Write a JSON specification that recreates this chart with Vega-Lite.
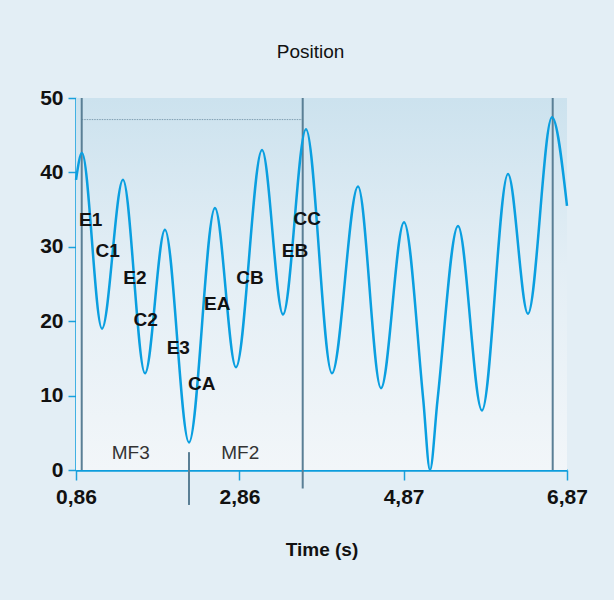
{
  "$schema": "https://vega.github.io/schema/vega-lite/v6.json",
  "width": 491,
  "height": 372,
  "autosize": "none",
  "padding": {"left": 76, "top": 98, "right": 47, "bottom": 130},
  "background": "#e3eef5",
  "title": {"text": "Position", "font": "Liberation Sans", "fontSize": 19, "fontWeight": "normal", "color": "#111111", "offset": 25, "dx": -11, "anchor": "middle"},
  "config": {"view": {"stroke": null}, "axis": {"grid": false}},
  "datasets": {
    "curve": [
      {"t": 0.86, "v": 39},
      {"t": 0.933, "v": 42.6},
      {"t": 1.178, "v": 19.0},
      {"t": 1.435, "v": 39},
      {"t": 1.705, "v": 13.0},
      {"t": 1.949, "v": 32.3},
      {"t": 2.243, "v": 3.7},
      {"t": 2.561, "v": 35.2},
      {"t": 2.818, "v": 13.8},
      {"t": 3.137, "v": 43},
      {"t": 3.394, "v": 20.9},
      {"t": 3.675, "v": 45.8},
      {"t": 3.993, "v": 13.0},
      {"t": 4.312, "v": 38.1},
      {"t": 4.593, "v": 11},
      {"t": 4.875, "v": 33.3},
      {"t": 5.111, "v": 9.4},
      {"t": 5.193, "v": 0},
      {"t": 5.285, "v": 9.4},
      {"t": 5.536, "v": 32.8},
      {"t": 5.829, "v": 8},
      {"t": 6.148, "v": 39.8},
      {"t": 6.392, "v": 21},
      {"t": 6.686, "v": 47.4},
      {"t": 6.87, "v": 35.5}
    ],
    "rules": [
      {"t": 0.930, "v1": 0, "v2": 50},
      {"t": 3.635, "v1": -2.5, "v2": 50},
      {"t": 6.695, "v1": 0, "v2": 50},
      {"t": 2.243, "v1": -4.7, "v2": 2.4}
    ],
    "dotted": [
      {"t": 0.93, "v": 47.1},
      {"t": 3.635, "v": 47.1}
    ],
    "labels": [
      {"t": 1.04, "v": 33.6, "label": "E1"},
      {"t": 1.248, "v": 29.5, "label": "C1"},
      {"t": 1.582, "v": 25.8, "label": "E2"},
      {"t": 1.713, "v": 20.2, "label": "C2"},
      {"t": 2.112, "v": 16.4, "label": "E3"},
      {"t": 2.398, "v": 11.6, "label": "CA"},
      {"t": 2.589, "v": 22.3, "label": "EA"},
      {"t": 2.99, "v": 25.8, "label": "CB"},
      {"t": 3.54, "v": 29.4, "label": "EB"},
      {"t": 3.69, "v": 33.7, "label": "CC"}
    ],
    "phases": [
      {"t": 1.53, "v": 2.3, "label": "MF3"},
      {"t": 2.87, "v": 2.3, "label": "MF2"}
    ]
  },
  "layer": [
    {
      "data": {"values": [{}]},
      "mark": {"type": "rect", "color": {"gradient": "linear", "x1": 0, "y1": 0, "x2": 0, "y2": 1, "stops": [{"offset": 0, "color": "#cce2ee"}, {"offset": 0.45, "color": "#e3eef5"}, {"offset": 1, "color": "#f2f6f9"}]}},
      "encoding": {
        "x": {
          "datum": 0.86, "type": "quantitative", "scale": {"domain": [0.86, 6.87], "nice": false, "zero": false},
          "axis": {
            "values": [0.86, 2.86, 4.87, 6.87],
            "labelExpr": "replace(format(datum.value, '.2f'), '.', ',')",
            "labelFont": "Liberation Sans", "labelFontSize": 21, "labelFontWeight": "bold", "labelColor": "#111111",
            "labelPadding": 6, "labelFlush": false,
            "tickSize": 10, "tickColor": "#1aa0dc", "tickWidth": 1.5,
            "domainColor": "#0d9ddc", "domainWidth": 2.5,
            "title": "Time (s)", "titleFont": "Liberation Sans", "titleFontSize": 19, "titleFontWeight": "bold", "titleColor": "#111111", "titlePadding": 33
          }
        },
        "x2": {"datum": 6.87},
        "y": {
          "datum": 0, "type": "quantitative", "scale": {"domain": [0, 50], "nice": false},
          "axis": {
            "values": [0, 10, 20, 30, 40, 50],
            "labelFont": "Liberation Sans", "labelFontSize": 21, "labelFontWeight": "bold", "labelColor": "#111111",
            "labelPadding": 5, "tickSize": 8, "tickColor": "#1aa0dc", "tickWidth": 1.5,
            "domainColor": "#0d9ddc", "domainWidth": 2.5,
            "title": null
          }
        },
        "y2": {"datum": 50}
      }
    },
    {
      "data": {"name": "dotted"},
      "mark": {"type": "line", "color": "#7f9db0", "strokeWidth": 1, "strokeDash": [1.5, 1]},
      "encoding": {
        "x": {"field": "t", "type": "quantitative"},
        "y": {"field": "v", "type": "quantitative"}
      }
    },
    {
      "data": {"name": "rules"},
      "mark": {"type": "rule", "color": "#5a7f95", "strokeWidth": 2},
      "encoding": {
        "x": {"field": "t", "type": "quantitative"},
        "y": {"field": "v1", "type": "quantitative"},
        "y2": {"field": "v2"}
      }
    },
    {
      "data": {"name": "curve"},
      "mark": {"type": "line", "color": "#0a9fe0", "strokeWidth": 2.5, "interpolate": "monotone"},
      "encoding": {
        "x": {"field": "t", "type": "quantitative"},
        "y": {"field": "v", "type": "quantitative"}
      }
    },
    {
      "data": {"name": "labels"},
      "mark": {"type": "text", "font": "Liberation Sans", "fontSize": 19, "fontWeight": "bold", "color": "#111111", "align": "center", "baseline": "middle"},
      "encoding": {
        "x": {"field": "t", "type": "quantitative"},
        "y": {"field": "v", "type": "quantitative"},
        "text": {"field": "label"}
      }
    },
    {
      "data": {"name": "phases"},
      "mark": {"type": "text", "font": "Liberation Sans", "fontSize": 19, "fontWeight": "normal", "color": "#333333", "align": "center", "baseline": "middle"},
      "encoding": {
        "x": {"field": "t", "type": "quantitative"},
        "y": {"field": "v", "type": "quantitative"},
        "text": {"field": "label"}
      }
    }
  ]
}
